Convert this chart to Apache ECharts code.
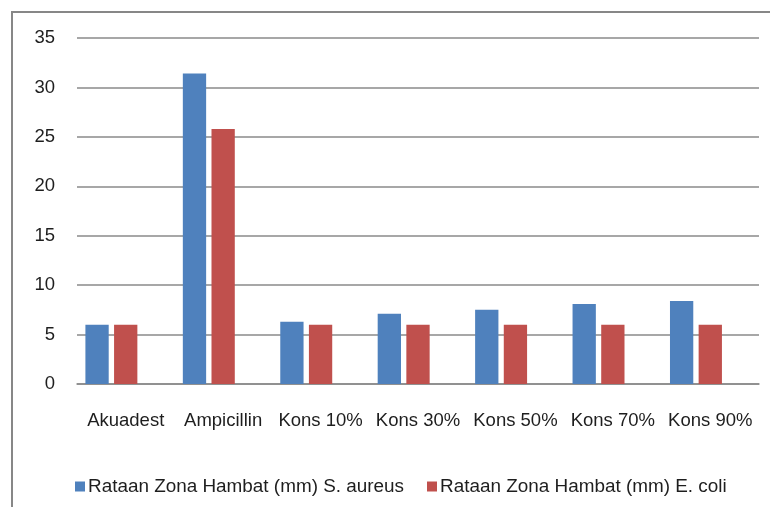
<!DOCTYPE html>
<html>
<head>
<meta charset="utf-8">
<script src="https://cdn.jsdelivr.net/npm/echarts@6/dist/echarts.min.js"></script>
<style>
html,body{margin:0;padding:0;background:#fff;}
#c{width:770px;height:507px;}
</style>
</head>
<body>
<div id="c"></div>
<script>
var categories = ['Akuadest', 'Ampicillin', 'Kons 10%', 'Kons 30%', 'Kons 50%', 'Kons 70%', 'Kons 90%'];
var seriesNames = ['Rataan Zona Hambat (mm) S. aureus', 'Rataan Zona Hambat (mm) E. coli'];
var sAureus = [6, 31.4, 6.3, 7.1, 7.5, 8.1, 8.4];
var eColi = [6, 25.8, 6, 6, 6, 6, 6];
var emptySeries = [null, null, null, null, null, null, null];
var yTicks = [0, 5, 10, 15, 20, 25, 30, 35];

var FONT = '"Liberation Sans", Arial, sans-serif';
var chart = echarts.init(document.getElementById('c'), null, {renderer: 'canvas'});
chart.setOption({
  animation: false,
  backgroundColor: '#ffffff',
  graphic: [{
    type: 'polyline',
    shape: {points: [[12, 520], [12, 12], [790, 12]]},
    style: {fill: 'none', stroke: '#878787', lineWidth: 2},
    silent: true
  }],
  grid: {left: 77, right: 11, top: 38, bottom: 123, containLabel: false},
  legend: {
    left: 70,
    top: 472,
    itemWidth: 10,
    itemHeight: 10,
    itemGap: 23,
    icon: 'rect',
    data: seriesNames,
    textStyle: {fontFamily: FONT, fontSize: 18.9, color: '#1e1e1e', padding: [0, 0, 0, -2]}
  },
  xAxis: {
    type: 'category',
    data: categories,
    axisLine: {show: true, lineStyle: {color: '#8a8a8a', width: 1.5}},
    axisTick: {show: false},
    axisLabel: {fontFamily: FONT, fontSize: 18.5, color: '#1e1e1e', margin: 27, interval: 0}
  },
  yAxis: {
    type: 'value',
    min: yTicks[0],
    max: yTicks[yTicks.length - 1],
    interval: 5,
    axisLine: {show: false},
    axisTick: {show: false},
    splitLine: {show: true, lineStyle: {color: '#8a8a8a', width: 1.5}},
    axisLabel: {fontFamily: FONT, fontSize: 18.5, color: '#1e1e1e', margin: 22}
  },
  series: [
    {name: seriesNames[0], type: 'bar', data: sAureus, barWidth: 23.3, barGap: '23%', itemStyle: {color: '#4f81bd'}},
    {name: seriesNames[1], type: 'bar', data: eColi, barWidth: 23.3, barGap: '23%', itemStyle: {color: '#c0504d'}},
    {name: '', type: 'bar', data: emptySeries, barWidth: 23.3, barGap: '23%', itemStyle: {color: 'transparent'}}
  ]
});
</script>
</body>
</html>
